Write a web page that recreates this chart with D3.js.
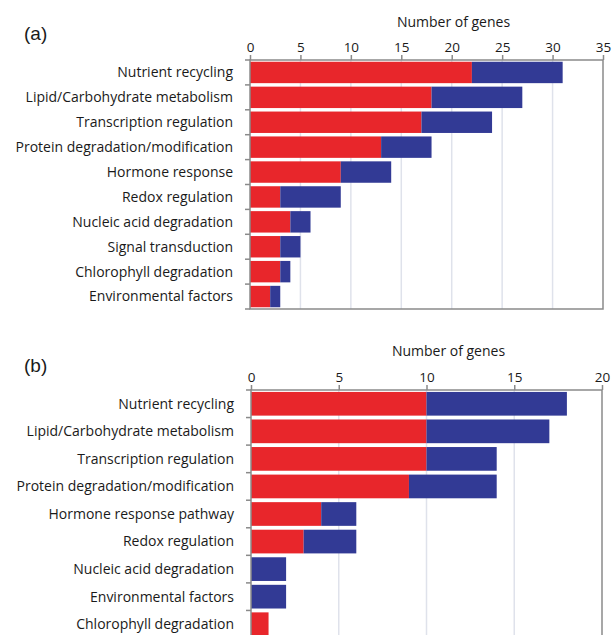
<!DOCTYPE html>
<html>
<head>
<meta charset="utf-8">
<script src="https://cdn.jsdelivr.net/npm/d3@7"></script>
<style>
  html, body { margin: 0; padding: 0; background: #fff; }
  svg { display: block; }
  text { font-family: "Open Sans", "Noto Sans", sans-serif; fill: #1a1a1a; }
</style>
</head>
<body>
<svg id="chart" width="613" height="635"></svg>
<script>
// Panel (a): gene counts per functional category
const categoriesA = [
  "Nutrient recycling",
  "Lipid/Carbohydrate metabolism",
  "Transcription regulation",
  "Protein degradation/modification",
  "Hormone response",
  "Redox regulation",
  "Nucleic acid degradation",
  "Signal transduction",
  "Chlorophyll degradation",
  "Environmental factors"
];
const redA  = [22, 18, 17, 13, 9, 3, 4, 3, 3, 2];
const blueA = [9, 9, 7, 5, 5, 6, 2, 2, 1, 1];
const ticksA = [0, 5, 10, 15, 20, 25, 30, 35];

// Panel (b): gene counts per functional category
const categoriesB = [
  "Nutrient recycling",
  "Lipid/Carbohydrate metabolism",
  "Transcription regulation",
  "Protein degradation/modification",
  "Hormone response pathway",
  "Redox regulation",
  "Nucleic acid degradation",
  "Environmental factors",
  "Chlorophyll degradation"
];
const redB  = [10, 10, 10, 9, 4, 3, 0, 0, 1];
const blueB = [8, 7, 4, 5, 2, 3, 2, 2, 0];
const ticksB = [0, 5, 10, 15, 20];

const axisTitle = "Number of genes";
const RED = "#e8262b";
const BLUE = "#323a95";
const FRAME = "#8a8a8a";
const GRID = "#dfe2eb";

const svg = d3.select("#chart");

function panel(opts) {
  const { label, labelY, cats, red, blue, ticks, left, right, top, bottom, titleY, titleDx } = opts;
  const g = svg.append("g");

  const x = d3.scaleLinear().domain([0, ticks[ticks.length - 1]]).range([left, right]);
  const y = d3.scaleBand().domain(cats).range([top, bottom]).paddingInner(0.14).paddingOuter(0.07);
  const bandStep = (bottom - top) / cats.length;

  // panel letter
  g.append("text")
    .attr("x", 24).attr("y", labelY)
    .style("font-family", "'Liberation Sans', Arial, sans-serif")
    .style("font-size", "19px")
    .text(label);

  // vertical grid lines
  g.append("g").selectAll("line")
    .data(ticks.slice(1, -1))
    .join("line")
    .attr("x1", d => x(d)).attr("x2", d => x(d))
    .attr("y1", top).attr("y2", bottom)
    .attr("stroke", GRID).attr("stroke-width", 1.5);

  // stacked bars
  const rows = cats.map((c, i) => ({ c, r: red[i], b: blue[i] }));
  g.append("g").selectAll("rect.red")
    .data(rows.filter(d => d.r > 0))
    .join("rect")
    .attr("x", x(0)).attr("y", d => y(d.c))
    .attr("width", d => x(d.r) - x(0))
    .attr("height", y.bandwidth())
    .attr("fill", RED);
  g.append("g").selectAll("rect.blue")
    .data(rows.filter(d => d.b > 0))
    .join("rect")
    .attr("x", d => x(d.r)).attr("y", d => y(d.c))
    .attr("width", d => x(d.r + d.b) - x(d.r))
    .attr("height", y.bandwidth())
    .attr("fill", BLUE);

  // frame
  g.append("rect")
    .attr("x", left).attr("y", top)
    .attr("width", right - left).attr("height", bottom - top)
    .attr("fill", "none").attr("stroke", FRAME).attr("stroke-width", 1.5);

  // top axis
  const xAxis = d3.axisTop(x).tickValues(ticks).tickSize(5).tickPadding(3);
  const ax = g.append("g").attr("transform", `translate(0,${top})`).call(xAxis);
  ax.select(".domain").remove();
  ax.selectAll(".tick line").attr("stroke", FRAME).attr("stroke-width", 1.5);
  ax.selectAll(".tick text").style("font-size", "13.5px").attr("fill", "#1a1a1a");

  // axis title
  g.append("text")
    .attr("x", (left + right) / 2 + titleDx).attr("y", titleY)
    .attr("text-anchor", "middle")
    .style("font-size", "14px")
    .text(axisTitle);

  // left boundary ticks between categories
  g.append("g").selectAll("line")
    .data(d3.range(cats.length + 1))
    .join("line")
    .attr("x1", left - 5).attr("x2", left)
    .attr("y1", i => top + i * bandStep).attr("y2", i => top + i * bandStep)
    .attr("stroke", FRAME).attr("stroke-width", 1.5);

  // category labels
  g.append("g").selectAll("text")
    .data(cats)
    .join("text")
    .attr("x", left - 17)
    .attr("y", d => y(d) + y.bandwidth() / 2)
    .attr("dy", "0.35em")
    .attr("text-anchor", "end")
    .style("font-size", "14px")
    .text(d => d);
}

panel({
  label: "(a)", labelY: 40,
  cats: categoriesA, red: redA, blue: blueA, ticks: ticksA,
  left: 250, right: 603, top: 60, bottom: 309,
  titleY: 27, titleDx: 27
});

panel({
  label: "(b)", labelY: 372,
  cats: categoriesB, red: redB, blue: blueB, ticks: ticksB,
  left: 251, right: 602, top: 390, bottom: 638,
  titleY: 356, titleDx: 22
});
</script>
</body>
</html>
